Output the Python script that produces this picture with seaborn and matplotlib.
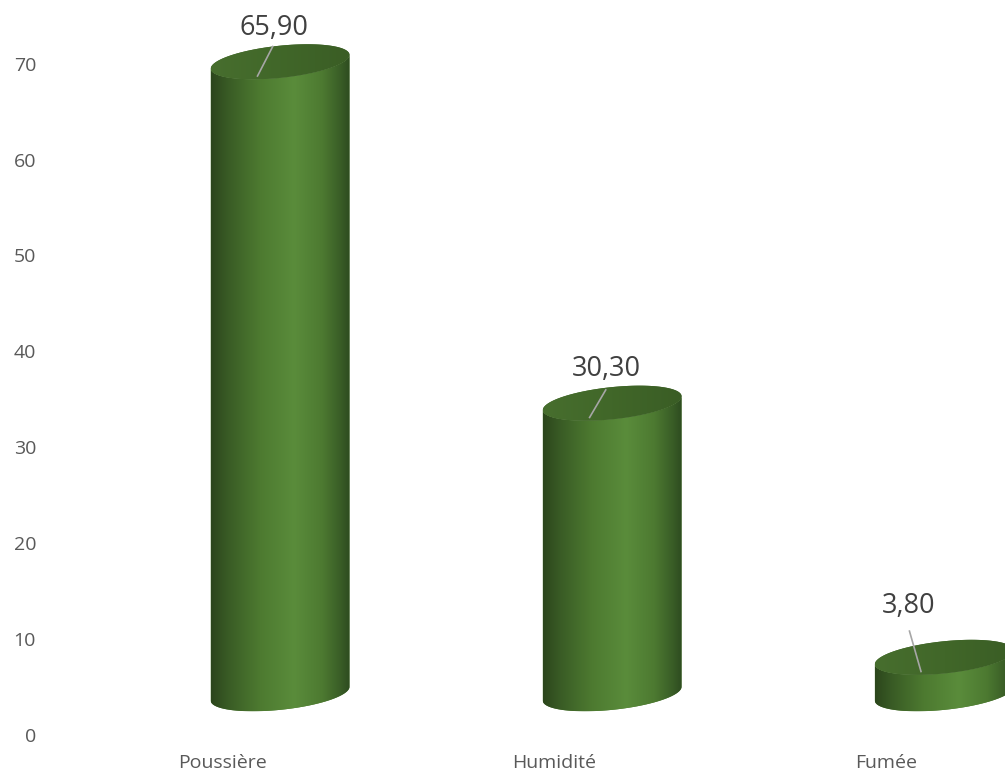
import numpy as np
import matplotlib
matplotlib.use("Agg")
import matplotlib.pyplot as plt
import pandas as pd
import seaborn as sns
from matplotlib.patches import Polygon
from matplotlib.colors import LinearSegmentedColormap

# ---- data -------------------------------------------------------------
categories = ["Poussière", "Humidité", "Fumée"]
values = [65.90, 30.30, 3.80]
y_ticks = [0, 10, 20, 30, 40, 50, 60, 70]

# ---- style --------------------------------------------------------------
sns.set_theme(style="white")
plt.rcParams["font.family"] = ["Open Sans", "DejaVu Sans"]

TICK_COLOR = "#595959"
LABEL_COLOR = "#404040"
LEADER_COLOR = "#A6A6A6"

side_cmap = LinearSegmentedColormap.from_list(
    "side",
    [(0.00, "#2C461C"), (0.12, "#395B25"), (0.35, "#4D7A30"),
     (0.60, "#5A8C3B"), (0.80, "#4D7A31"), (0.93, "#3A5E27"),
     (1.00, "#2E4C20")],
)
top_cmap = LinearSegmentedColormap.from_list(
    "top", [(0.0, "#476E2E"), (0.5, "#416729"), (1.0, "#3A5D25")]
)

# 3-D view: depth shift of the cylinders and tilt of their end caps
DEPTH_DX = 0.175      # category units
DEPTH_DY = 4.3        # value units
CAP_TILT = np.deg2rad(6.0)
CAP_MINOR_PX = 16.0

fig = plt.figure(figsize=(10.05, 7.8), dpi=100)
ax = fig.add_axes([48 / 1005, 32 / 780, 957 / 1005, 748 / 780])

df = pd.DataFrame({"categorie": categories, "valeur": values})
sns.barplot(data=df, x="categorie", y="valeur", width=0.42, errorbar=None,
            color="#548235", ax=ax)

ax.set_xlim(-0.524, 2.358)
ax.set_ylim(-1.356, 76.64)

# pixels per data unit
o = ax.transData.transform((0, 0))
sx = ax.transData.transform((1, 0))[0] - o[0]
sy = ax.transData.transform((0, 1))[1] - o[1]


def cap(cx, cy, a_px, t):
    """Points of a tilted elliptical cap centred on (cx, cy)."""
    c, s = np.cos(CAP_TILT), np.sin(CAP_TILT)
    dx = a_px * c * np.cos(t) - CAP_MINOR_PX * s * np.sin(t)
    dy = a_px * s * np.cos(t) + CAP_MINOR_PX * c * np.sin(t)
    return np.column_stack([cx + dx / sx, cy + dy / sy])


# label placement relative to the top cap centre (pixels): text, leader start
label_layout = [(-6, 27, -7, 16), (-6, 27, -6, 14), (-36, 44, -35, 27)]
leader_end_px = (-23, -15)

bars = list(ax.patches)
for i, (bar, val) in enumerate(zip(bars, values)):
    bar.set_visible(False)
    x0, w, h = bar.get_x(), bar.get_width(), bar.get_height()
    cx = x0 + w / 2 + DEPTH_DX
    cy_b = DEPTH_DY
    cy_t = DEPTH_DY + h
    a_px = w / 2 * sx

    t0 = np.arctan2(-CAP_MINOR_PX * np.sin(CAP_TILT), a_px * np.cos(CAP_TILT))
    front = np.linspace(np.pi + t0, 2 * np.pi + t0, 120)

    body_pts = np.vstack([cap(cx, cy_b, a_px, front),
                          cap(cx, cy_t, a_px, front[::-1])])
    body = Polygon(body_pts, closed=True, facecolor="#4D7A30",
                   edgecolor="none", zorder=2)
    ax.add_patch(body)
    xl, xr = body_pts[:, 0].min(), body_pts[:, 0].max()
    yb, yt = body_pts[:, 1].min(), body_pts[:, 1].max()
    grad = np.linspace(0, 1, 256)[np.newaxis, :]
    im = ax.imshow(grad, extent=(xl, xr, yb, yt), aspect="auto",
                   cmap=side_cmap, interpolation="bicubic", zorder=2.1)
    im.set_clip_path(body)

    full = np.linspace(0, 2 * np.pi, 240)
    top_pts = cap(cx, cy_t, a_px, full)
    top = Polygon(top_pts, closed=True, facecolor="#416729",
                  edgecolor="none", zorder=3)
    ax.add_patch(top)
    im2 = ax.imshow(grad, extent=(top_pts[:, 0].min(), top_pts[:, 0].max(),
                                  top_pts[:, 1].min(), top_pts[:, 1].max()),
                    aspect="auto", cmap=top_cmap, interpolation="bicubic",
                    zorder=3.1)
    im2.set_clip_path(top)

    # value label with leader line
    tx, ty, lx, ly = label_layout[i]
    ax.text(cx + tx / sx, cy_t + ty / sy, f"{val:.2f}".replace(".", ","),
            ha="center", va="baseline", fontsize=19.5, color=LABEL_COLOR,
            zorder=5)
    ax.plot([cx + lx / sx, cx + leader_end_px[0] / sx],
            [cy_t + ly / sy, cy_t + leader_end_px[1] / sy],
            color=LEADER_COLOR, lw=1.2, solid_capstyle="butt", zorder=4)

ax.set_xlim(-0.524, 2.358)
ax.set_ylim(-1.356, 76.64)
ax.set_yticks(y_ticks)
ax.set_yticklabels([str(v) for v in y_ticks])
ax.set_xticks(range(len(categories)))
ax.set_xticklabels(categories)
ax.set_xlabel("")
ax.set_ylabel("")
ax.tick_params(axis="y", length=0, pad=8.6, labelsize=14, labelcolor=TICK_COLOR)
ax.tick_params(axis="x", length=0, pad=4, labelsize=14, labelcolor=TICK_COLOR)
for sp in ax.spines.values():
    sp.set_visible(False)
ax.grid(False)
ax.set_facecolor("white")
fig.patch.set_facecolor("white")

fig.savefig("out.png", dpi=100, facecolor="white")
